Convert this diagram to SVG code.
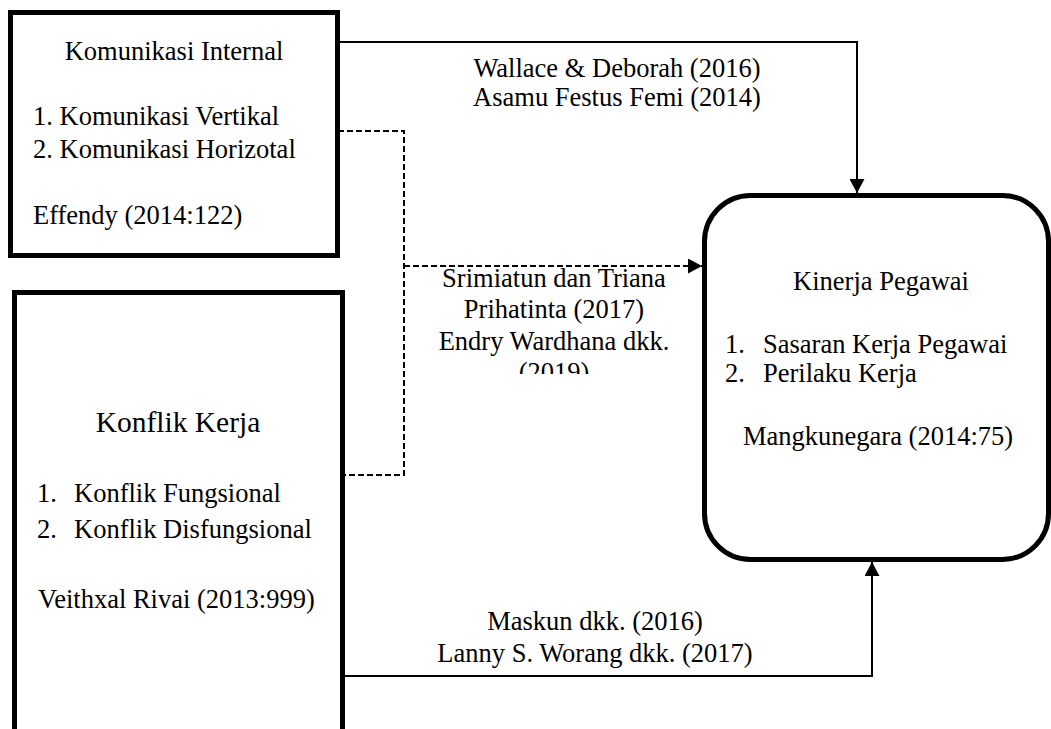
<svg xmlns="http://www.w3.org/2000/svg" width="1051" height="729" viewBox="0 0 1051 729">
<style>
.box{fill:#fff;stroke:#000;stroke-width:5}
text{font-family:"Liberation Serif","Times New Roman",serif;font-size:26.5px;fill:#000}
.c{text-anchor:middle}
.big{font-size:29.5px}
.ln{fill:none;stroke:#000;stroke-width:2}
.dash{fill:none;stroke:#000;stroke-width:2;stroke-dasharray:6 3}
</style>
<defs>
<marker id="ah" viewBox="0 0 14 15" refX="14" refY="7.5" markerWidth="14" markerHeight="15" markerUnits="userSpaceOnUse" orient="auto">
<path d="M0,0 L14,7.5 L0,15 Z" fill="#000"/>
</marker>
<clipPath id="clipLbl"><rect x="380" y="240" width="330" height="134"/></clipPath>
</defs>
<rect width="1051" height="729" fill="#fff"/>
<g id="connectors">
<polyline class="ln" points="338,42 857,42 857,193" marker-end="url(#ah)"/>
<polyline class="ln" points="343,676 872,676 872,562" marker-end="url(#ah)"/>
<polyline class="dash" points="338,131 404,131 404,475 343,475"/>
<line class="dash" x1="404" y1="266" x2="702" y2="266" marker-end="url(#ah)"/>
<g id="lbl-top">
<text class="c" x="617" y="77">Wallace &amp; Deborah (2016)</text>
<text class="c" x="617" y="106">Asamu Festus Femi (2014)</text>
</g>
<g id="lbl-mid" clip-path="url(#clipLbl)">
<text class="c" x="554" y="287">Srimiatun dan Triana</text>
<text class="c" x="554" y="318">Prihatinta (2017)</text>
<text class="c" x="554" y="350">Endry Wardhana dkk.</text>
<text class="c" x="554" y="381">(2019)</text>
</g>
<g id="lbl-bottom">
<text class="c" x="595" y="630">Maskun dkk. (2016)</text>
<text class="c" x="595" y="662">Lanny S. Worang dkk. (2017)</text>
</g>
</g>
<g id="node-komunikasi">
<rect class="box" x="10.5" y="12.5" width="327" height="243"/>
<text class="c" x="174" y="60">Komunikasi Internal</text>
<text x="33" y="125">1. Komunikasi Vertikal</text>
<text x="33" y="158">2. Komunikasi Horizotal</text>
<text x="33" y="224">Effendy (2014:122)</text>
</g>
<g id="node-konflik">
<rect class="box" x="14.5" y="292.5" width="328" height="460"/>
<text class="c big" x="178" y="432">Konflik Kerja</text>
<text x="37" y="502">1.</text>
<text x="74" y="502">Konflik Fungsional</text>
<text x="37" y="538">2.</text>
<text x="74" y="538">Konflik Disfungsional</text>
<text x="38" y="608">Veithxal Rivai (2013:999)</text>
</g>
<g id="node-kinerja">
<rect class="box" x="704.5" y="195.5" width="344" height="364" rx="46" ry="46"/>
<text class="c" x="881" y="290">Kinerja Pegawai</text>
<text x="725" y="353">1.</text>
<text x="763" y="353">Sasaran Kerja Pegawai</text>
<text x="725" y="382">2.</text>
<text x="763" y="382">Perilaku Kerja</text>
<text x="743" y="445">Mangkunegara (2014:75)</text>
</g>
</svg>
